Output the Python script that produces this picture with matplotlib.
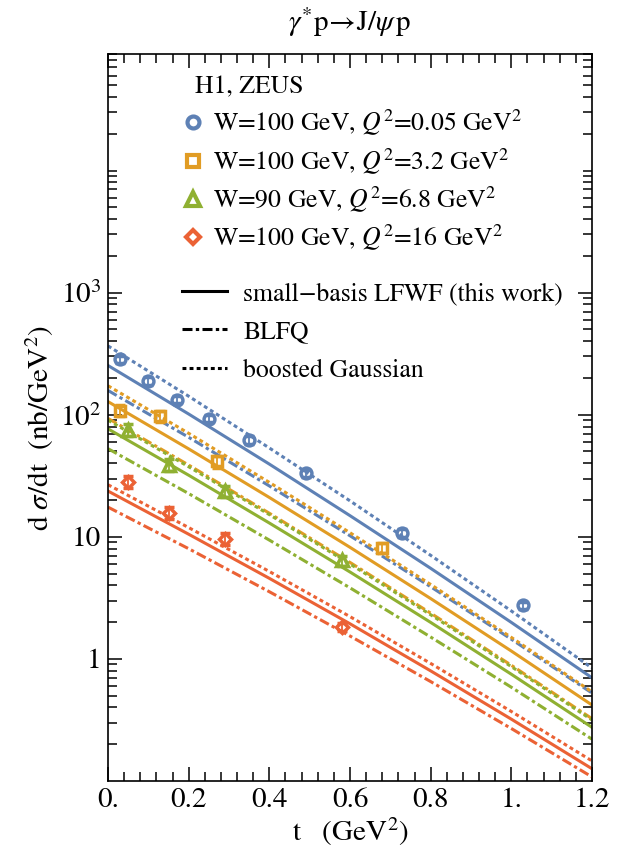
import matplotlib
matplotlib.use("Agg")
import matplotlib.pyplot as plt
from matplotlib.lines import Line2D
import numpy as np

plt.rcParams['font.family'] = ['STIXGeneral', 'Liberation Serif', 'DejaVu Serif']
plt.rcParams['mathtext.fontset'] = 'stix'
plt.rcParams['lines.scale_dashes'] = False

# ---------------- data ----------------
colors = {'blue': '#5E81B5', 'orange': '#E19C24', 'green': '#8FB032', 'red': '#EB6235'}

# experimental points (H1, ZEUS)
t_blue = [0.03, 0.10, 0.17, 0.25, 0.35, 0.49, 0.73, 1.03]
v_blue = [284, 189, 133, 93, 62, 33, 10.8, 2.74]
e_blue = [20, 13, 9, 6.5, 4.5, 2.3, 0.8, 0.2]

t_orange = [0.03, 0.13, 0.27, 0.68]
v_orange = [108, 97, 41.4, 8.15]
e_orange = [11, 10, 4.5, 0.8]

t_green = [0.05, 0.15, 0.29, 0.58]
v_green = [75.5, 38.9, 23.7, 6.4]
e_green = [8, 4.3, 2.6, 0.6]

t_red = [0.05, 0.15, 0.29, 0.58]
v_red = [28.3, 15.8, 9.6, 1.83]
e_red = [3.1, 1.8, 1.1, 0.15]

# model curves sampled at t_curve
t_curve = [0.0, 0.2, 0.4, 0.6, 0.8, 1.0, 1.2]
# small-basis LFWF (solid)
lf_blue = [253, 101.3, 39.4, 14.9, 5.52, 1.99, 0.70]
lf_orange = [128, 52.5, 21.0, 8.20, 3.12, 1.16, 0.419]
lf_green = [76.6, 31.95, 12.97, 5.15, 1.99, 0.749, 0.275]
lf_red = [23.7, 10.5, 4.57, 1.94, 0.798, 0.321, 0.126]
# BLFQ (dash-dot)
bl_blue = [158, 65.3, 26.1, 10.2, 3.90, 1.45, 0.525]
bl_orange = [93.3, 38.7, 15.6, 6.17, 2.37, 0.887, 0.324]
bl_green = [52.7, 22.6, 9.40, 3.82, 1.51, 0.586, 0.22]
bl_red = [17.5, 7.99, 3.55, 1.54, 0.652, 0.269, 0.108]
# boosted Gaussian (dotted)
bg_blue = [366, 141.7, 53.4, 19.7, 7.05, 2.47, 0.842]
bg_orange = [172.6, 70.4, 27.9, 10.8, 4.07, 1.50, 0.537]
bg_green = [90.2, 37.5, 15.2, 5.99, 2.30, 0.865, 0.316]
bg_red = [26.7, 11.9, 5.20, 2.22, 0.918, 0.371, 0.146]

labels_data = [r'W=100 GeV, $Q^2$=0.05 GeV$^2$',
               r'W=100 GeV, $Q^2$=3.2 GeV$^2$',
               r'W=90 GeV, $Q^2$=6.8 GeV$^2$',
               r'W=100 GeV, $Q^2$=16 GeV$^2$']
labels_model = ['small\u2212basis LFWF (this work)', 'BLFQ', 'boosted Gaussian']

x_ticks = [0.0, 0.2, 0.4, 0.6, 0.8, 1.0, 1.2]
x_ticklabels = ['0.', '0.2', '0.4', '0.6', '0.8', '1.', '1.2']
y_ticks = [1, 10, 100, 1000]
y_ticklabels = ['1', '10', r'$10^2$', r'$10^3$']

# ---------------- figure ----------------
W, H = 619, 855
fig = plt.figure(figsize=(W / 100, H / 100), dpi=100)
ax = fig.add_axes([108 / W, 1 - 781 / H, (592 - 108) / W, (781 - 54) / H])

LW = 2.2
dotted = (0, (2.8, 2.3))
dashdot = (0, (7.2, 2.4, 2.4, 2.4))

series = [
    ('blue', lf_blue, bl_blue, bg_blue),
    ('orange', lf_orange, bl_orange, bg_orange),
    ('green', lf_green, bl_green, bg_green),
    ('red', lf_red, bl_red, bg_red),
]
for cname, lf, bl, bg in series:
    c = colors[cname]
    ax.plot(t_curve, bg, color=c, lw=LW, linestyle=dotted, zorder=2)
    ax.plot(t_curve, bl, color=c, lw=LW, linestyle=dashdot, zorder=2)
    ax.plot(t_curve, lf, color=c, lw=LW, linestyle='-', zorder=2)

pts = [
    (t_blue, v_blue, e_blue, 'blue', 'o', 7.8),
    (t_orange, v_orange, e_orange, 'orange', 's', 7.2),
    (t_green, v_green, e_green, 'green', '^', 8.6),
    (t_red, v_red, e_red, 'red', 'D', 6.0),
]
handles_data = []
for tt, vv, ee, cname, mk, ms in pts:
    c = colors[cname]
    ax.errorbar(tt, vv, yerr=ee, fmt=mk, color=c, mfc='none', mec=c, mew=2.5, ms=ms,
                elinewidth=1.3, capsize=3.4, capthick=1.3, zorder=4)
    handles_data.append(Line2D([], [], marker=mk, ls='none', mfc='none', mec=c, mew=3.0, ms=ms + 0.8))

ax.set_yscale('log')
ax.set_xlim(0, 1.2)
ax.set_ylim(0.1, 5e4)

ax.set_xticks(x_ticks)
ax.set_xticklabels(x_ticklabels)
ax.set_xticks(np.arange(0, 1.2001, 0.04), minor=True)
ax.set_yticks(y_ticks)
ax.set_yticklabels(y_ticklabels)
minor_y = [m * 10.0 ** k for k in range(-1, 5) for m in range(2, 10)] + [1e4]
ax.set_yticks(minor_y, minor=True)
ax.yaxis.set_minor_formatter(matplotlib.ticker.NullFormatter())

ax.tick_params(which='both', direction='in', top=True, right=True, width=1.1, colors='black')
ax.tick_params(which='major', length=10, labelsize=21)
ax.tick_params(which='minor', length=6.5)
ax.tick_params(axis='x', pad=5)
ax.tick_params(axis='y', pad=5)
for s in ax.spines.values():
    s.set_linewidth(1.2)

# labels
fig.text(350 / W, 1 - 22 / H, r'$\gamma^{*}\mathrm{p}\!\rightarrow\!\mathrm{J}/\psi\,\mathrm{p}$',
         ha='center', va='center', fontsize=21)
fig.text(350 / W, 1 - 832 / H, r't   (GeV$^2$)', ha='center', va='center', fontsize=21)
fig.text(40 / W, 1 - 428 / H, r'd $\sigma$/dt  (nb/GeV$^2$)', ha='center', va='center',
         rotation=90, fontsize=21)

# legends
ax.text((195 - 108) / 484, (781 - 93) / 727, 'H1, ZEUS', transform=ax.transAxes,
        fontsize=18.5, ha='left', va='baseline')
leg1 = ax.legend(handles_data, labels_data, loc='upper left',
                 bbox_to_anchor=((181 - 108) / 484, (781 - 108) / 727),
                 frameon=False, fontsize=18.5, handlelength=0.9, handletextpad=0.35,
                 labelspacing=0.3, borderpad=0, borderaxespad=0)
ax.add_artist(leg1)
handles_model = [Line2D([], [], color='black', lw=LW, ls='-'),
                 Line2D([], [], color='black', lw=LW, ls=dashdot),
                 Line2D([], [], color='black', lw=LW, ls=dotted)]
leg2 = ax.legend(handles_model, labels_model, loc='upper left',
                 bbox_to_anchor=((181.7 - 108) / 484, (781 - 282) / 727),
                 frameon=False, fontsize=18.5, handlelength=1.76, handletextpad=0.63,
                 labelspacing=0.56, borderpad=0, borderaxespad=0)

fig.savefig('out.png', dpi=100)
